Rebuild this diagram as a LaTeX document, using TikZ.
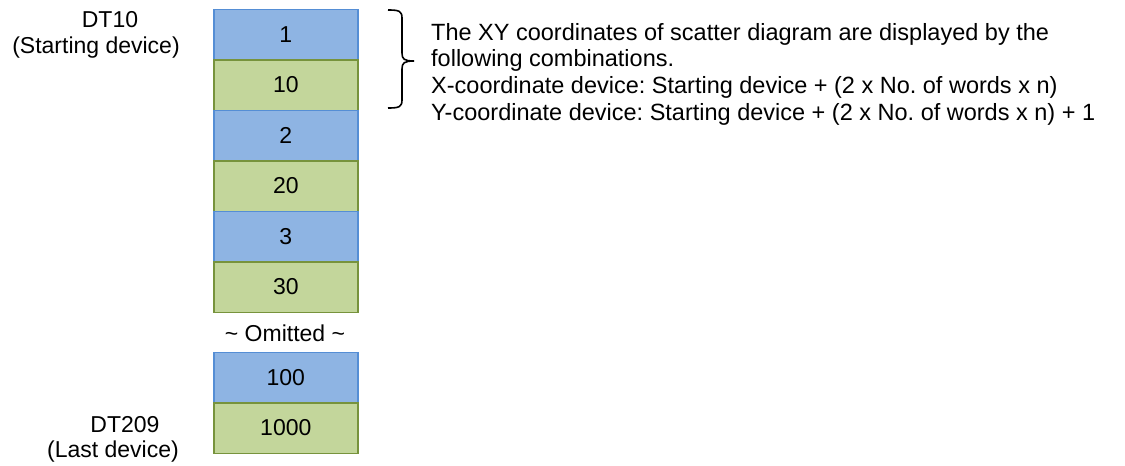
\documentclass[tikz,border=0pt]{standalone}
\usepackage{fontspec}
\setmainfont{Liberation Sans}
\definecolor{bfill}{HTML}{8EB4E3}
\definecolor{bline}{HTML}{558ED5}
\definecolor{gfill}{HTML}{C3D69B}
\definecolor{gline}{HTML}{77933C}
\tikzset{
  cell/.style={draw, line width=1.6pt, minimum width=144pt, minimum height=50.5pt, inner sep=0pt, anchor=north west, font=\fontsize{23}{26}\selectfont},
  bcell/.style={cell, fill=bfill, draw=bline},
  gcell/.style={cell, fill=gfill, draw=gline},
  lbl/.style={inner sep=0pt, font=\fontsize{23}{26}\selectfont},
}
\begin{document}
\frenchspacing
\begin{tikzpicture}[x=1pt,y=-1pt]
\useasboundingbox (0,0) rectangle (1125,466);
\node[bcell] (b1) at (213,8.5) {1};
\node[gcell] (b2) at (213,59) {10};
\node[bcell] (b3) at (213,109.5) {2};
\node[gcell] (b4) at (213,160) {20};
\node[bcell] (b5) at (213,210.5) {3};
\node[gcell] (b6) at (213,261) {30};
\node[lbl] (om) at (285,333) {\textasciitilde{} Omitted \textasciitilde};
\node[bcell] (b7) at (213,351.5) {100};
\node[gcell] (b8) at (213,402) {1000};
\node[lbl] (dt10) at (110,20) {DT10};
\node[lbl] (sd) at (96,48) {(Starting device)};
\node[lbl] (dt209) at (125,425) {DT209};
\node[lbl] (ld) at (113,452) {(Last device)};
\draw[line width=1.6pt] (388,10) .. controls (399,10) and (402,11) .. (402,18) -- (402,53) .. controls (402,59) and (404,61) .. (414,61);
\draw[line width=1.6pt] (414,61) .. controls (404,61) and (402,63) .. (402,69) -- (402,100) .. controls (402,107) and (399,108) .. (388,108);
\node[lbl, anchor=north west, align=left, font=\fontsize{23.5}{26.7}\selectfont] (txt) at (431,23) {The XY coordinates of scatter diagram are displayed by the\\following combinations.\\X-coordinate device: Starting device + (2 x No. of words x n)\\Y-coordinate device: Starting device + (2 x No. of words x n) + 1};
\end{tikzpicture}
\end{document}
